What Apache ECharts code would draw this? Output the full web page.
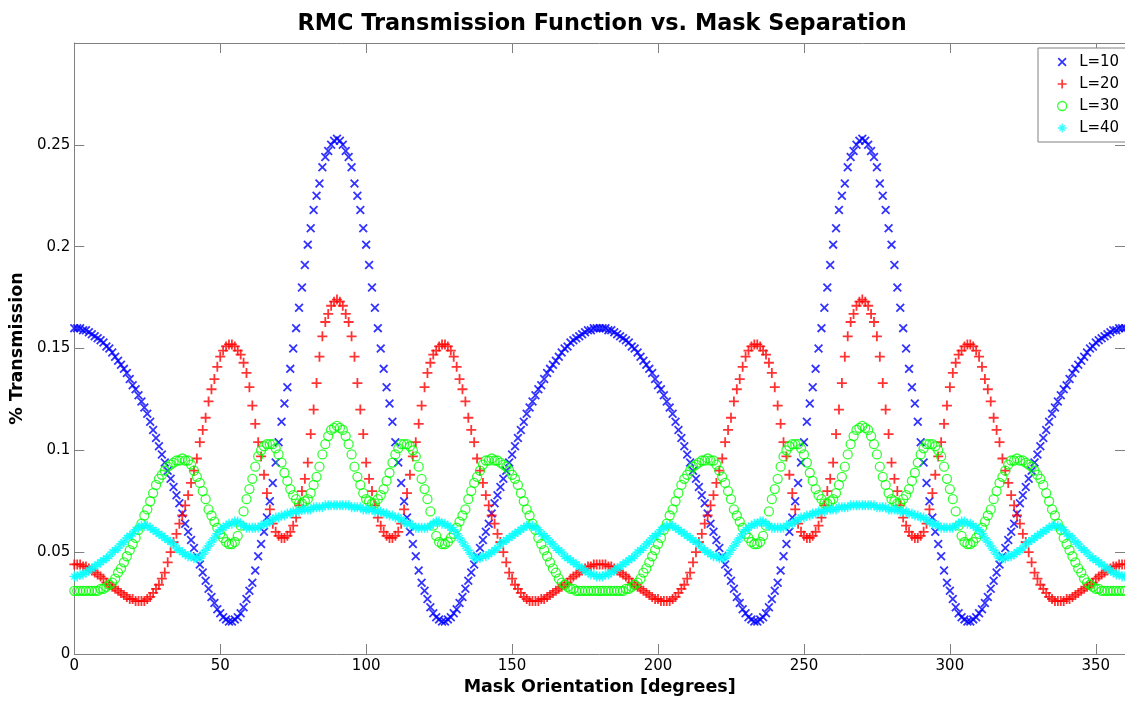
<!doctype html>
<html>
<head>
<meta charset="utf-8">
<script src="https://cdn.jsdelivr.net/npm/echarts@6/dist/echarts.min.js"></script>
<style>
    html, body { margin: 0; padding: 0; background: #fff; }
    #chart-panel { width: 1125px; height: 703px; }
</style>
</head>
<body>
<div id="chart-panel"></div>
<script type="text/javascript">
// one sample per degree, 0..360
var STEP = 1;

var seriesNames = ['L=10', 'L=20', 'L=30', 'L=40'];

// L=10 (blue x)
var blue = [
    .160,.160,.160,.159,.159,.158,.157,.156,.155,.154,
    .153,.151,.150,.148,.146,.144,.142,.140,.138,.135,
    .132,.130,.127,.124,.121,.118,.114,.110,.106,.102,
    .098,.094,.090,.086,.082,.078,.074,.069,.064,.060,
    .056,.052,.048,.044,.040,.036,.032,.028,.025,.022,
    .020,.018,.017,.016,.016,.017,.018,.020,.023,.027,
    .031,.035,.041,.048,.054,.060,.067,.075,.084,.094,
    .104,.114,.123,.131,.140,.150,.160,.170,.180,.191,
    .201,.209,.218,.225,.231,.239,.244,.247,.250,.252,
    .253,.252,.250,.247,.244,.239,.231,.225,.218,.209,
    .201,.191,.180,.170,.160,.150,.140,.131,.123,.114,
    .104,.094,.084,.075,.067,.060,.054,.048,.041,.035,
    .031,.027,.023,.020,.018,.017,.016,.016,.017,.018,
    .020,.022,.025,.028,.032,.036,.040,.044,.048,.052,
    .056,.060,.064,.069,.074,.078,.082,.086,.090,.094,
    .098,.102,.106,.110,.114,.118,.121,.124,.127,.130,
    .132,.135,.138,.140,.142,.144,.146,.148,.150,.151,
    .153,.154,.155,.156,.157,.158,.159,.159,.160,.160,
    .160,.160,.160,.159,.159,.158,.157,.156,.155,.154,
    .153,.151,.150,.148,.146,.144,.142,.140,.138,.135,
    .132,.130,.127,.124,.121,.118,.114,.110,.106,.102,
    .098,.094,.090,.086,.082,.078,.074,.069,.064,.060,
    .056,.052,.048,.044,.040,.036,.032,.028,.025,.022,
    .020,.018,.017,.016,.016,.017,.018,.020,.023,.027,
    .031,.035,.041,.048,.054,.060,.067,.075,.084,.094,
    .104,.114,.123,.131,.140,.150,.160,.170,.180,.191,
    .201,.209,.218,.225,.231,.239,.244,.247,.250,.252,
    .253,.252,.250,.247,.244,.239,.231,.225,.218,.209,
    .201,.191,.180,.170,.160,.150,.140,.131,.123,.114,
    .104,.094,.084,.075,.067,.060,.054,.048,.041,.035,
    .031,.027,.023,.020,.018,.017,.016,.016,.017,.018,
    .020,.022,.025,.028,.032,.036,.040,.044,.048,.052,
    .056,.060,.064,.069,.074,.078,.082,.086,.090,.094,
    .098,.102,.106,.110,.114,.118,.121,.124,.127,.130,
    .132,.135,.138,.140,.142,.144,.146,.148,.150,.151,
    .153,.154,.155,.156,.157,.158,.159,.159,.160,.160,
    .160
];

// L=20 (red +)
var red = [
    .044,.044,.044,.043,.043,.042,.041,.040,.039,.038,
    .037,.035,.034,.033,.032,.031,.030,.029,.028,.027,
    .027,.026,.026,.026,.026,.027,.028,.030,.032,.034,
    .037,.040,.045,.050,.055,.059,.064,.068,.073,.078,
    .084,.090,.096,.104,.110,.116,.124,.130,.135,.141,
    .146,.149,.151,.152,.152,.151,.149,.147,.143,.138,
    .131,.122,.113,.104,.097,.088,.079,.071,.064,.060,
    .058,.057,.057,.058,.060,.063,.067,.073,.080,.086,
    .094,.108,.120,.133,.146,.156,.163,.167,.171,.173,
    .174,.173,.171,.167,.163,.156,.146,.133,.120,.108,
    .094,.086,.080,.073,.067,.063,.060,.058,.057,.057,
    .058,.060,.064,.071,.079,.088,.097,.104,.113,.122,
    .131,.138,.143,.147,.149,.151,.152,.152,.151,.149,
    .146,.141,.135,.130,.124,.116,.110,.104,.096,.090,
    .084,.078,.073,.068,.064,.059,.055,.050,.045,.040,
    .037,.034,.032,.030,.028,.027,.026,.026,.026,.026,
    .027,.027,.028,.029,.030,.031,.032,.033,.034,.035,
    .037,.038,.039,.040,.041,.042,.043,.043,.044,.044,
    .044,.044,.044,.043,.043,.042,.041,.040,.039,.038,
    .037,.035,.034,.033,.032,.031,.030,.029,.028,.027,
    .027,.026,.026,.026,.026,.027,.028,.030,.032,.034,
    .037,.040,.045,.050,.055,.059,.064,.068,.073,.078,
    .084,.090,.096,.104,.110,.116,.124,.130,.135,.141,
    .146,.149,.151,.152,.152,.151,.149,.147,.143,.138,
    .131,.122,.113,.104,.097,.088,.079,.071,.064,.060,
    .058,.057,.057,.058,.060,.063,.067,.073,.080,.086,
    .094,.108,.120,.133,.146,.156,.163,.167,.171,.173,
    .174,.173,.171,.167,.163,.156,.146,.133,.120,.108,
    .094,.086,.080,.073,.067,.063,.060,.058,.057,.057,
    .058,.060,.064,.071,.079,.088,.097,.104,.113,.122,
    .131,.138,.143,.147,.149,.151,.152,.152,.151,.149,
    .146,.141,.135,.130,.124,.116,.110,.104,.096,.090,
    .084,.078,.073,.068,.064,.059,.055,.050,.045,.040,
    .037,.034,.032,.030,.028,.027,.026,.026,.026,.026,
    .027,.027,.028,.029,.030,.031,.032,.033,.034,.035,
    .037,.038,.039,.040,.041,.042,.043,.043,.044,.044,
    .044
];

// L=30 (green o)
var green = [
    .031,.031,.031,.031,.031,.031,.031,.031,.031,.032,
    .032,.033,.034,.035,.037,.040,.042,.045,.048,.051,
    .054,.057,.061,.064,.068,.071,.075,.079,.083,.086,
    .088,.090,.092,.093,.094,.095,.095,.096,.095,.095,
    .093,.090,.087,.084,.080,.076,.071,.068,.065,.062,
    .059,.057,.055,.054,.054,.055,.058,.063,.070,.076,
    .081,.086,.092,.097,.100,.102,.103,.103,.103,.101,
    .098,.094,.089,.085,.081,.078,.076,.074,.074,.075,
    .076,.079,.083,.087,.092,.098,.103,.107,.110,.111,
    .112,.111,.110,.107,.103,.098,.092,.087,.083,.079,
    .076,.075,.074,.074,.076,.078,.081,.085,.089,.094,
    .098,.101,.103,.103,.103,.102,.100,.097,.092,.086,
    .081,.076,.070,.063,.058,.055,.054,.054,.055,.057,
    .059,.062,.065,.068,.071,.076,.080,.084,.087,.090,
    .093,.095,.095,.096,.095,.095,.094,.093,.092,.090,
    .088,.086,.083,.079,.075,.071,.068,.064,.061,.057,
    .054,.051,.048,.045,.042,.040,.037,.035,.034,.033,
    .032,.032,.031,.031,.031,.031,.031,.031,.031,.031,
    .031,.031,.031,.031,.031,.031,.031,.031,.031,.032,
    .032,.033,.034,.035,.037,.040,.042,.045,.048,.051,
    .054,.057,.061,.064,.068,.071,.075,.079,.083,.086,
    .088,.090,.092,.093,.094,.095,.095,.096,.095,.095,
    .093,.090,.087,.084,.080,.076,.071,.068,.065,.062,
    .059,.057,.055,.054,.054,.055,.058,.063,.070,.076,
    .081,.086,.092,.097,.100,.102,.103,.103,.103,.101,
    .098,.094,.089,.085,.081,.078,.076,.074,.074,.075,
    .076,.079,.083,.087,.092,.098,.103,.107,.110,.111,
    .112,.111,.110,.107,.103,.098,.092,.087,.083,.079,
    .076,.075,.074,.074,.076,.078,.081,.085,.089,.094,
    .098,.101,.103,.103,.103,.102,.100,.097,.092,.086,
    .081,.076,.070,.063,.058,.055,.054,.054,.055,.057,
    .059,.062,.065,.068,.071,.076,.080,.084,.087,.090,
    .093,.095,.095,.096,.095,.095,.094,.093,.092,.090,
    .088,.086,.083,.079,.075,.071,.068,.064,.061,.057,
    .054,.051,.048,.045,.042,.040,.037,.035,.034,.033,
    .032,.032,.031,.031,.031,.031,.031,.031,.031,.031,
    .031
];

// L=40 (cyan *)
var cyan = [
    .038,.038,.039,.039,.040,.041,.042,.043,.044,.045,
    .046,.047,.048,.050,.051,.052,.054,.055,.057,.058,
    .059,.061,.062,.063,.063,.063,.062,.061,.060,.059,
    .058,.057,.056,.055,.054,.052,.051,.050,.049,.048,
    .048,.047,.047,.047,.049,.051,.053,.055,.057,.059,
    .061,.062,.063,.064,.064,.065,.065,.064,.063,.062,
    .062,.062,.062,.062,.063,.064,.064,.065,.066,.067,
    .067,.068,.068,.069,.069,.070,.070,.070,.071,.071,
    .071,.071,.072,.072,.072,.072,.073,.073,.073,.073,
    .073,.073,.073,.073,.073,.072,.072,.072,.072,.071,
    .071,.071,.071,.070,.070,.070,.069,.069,.068,.068,
    .067,.067,.066,.065,.064,.064,.063,.062,.062,.062,
    .062,.062,.063,.064,.065,.065,.064,.064,.063,.062,
    .061,.059,.057,.055,.053,.051,.049,.047,.047,.047,
    .048,.048,.049,.050,.051,.052,.054,.055,.056,.057,
    .058,.059,.060,.061,.062,.063,.063,.063,.062,.061,
    .059,.058,.057,.055,.054,.052,.051,.050,.048,.047,
    .046,.045,.044,.043,.042,.041,.040,.039,.039,.038,
    .038,.038,.039,.039,.040,.041,.042,.043,.044,.045,
    .046,.047,.048,.050,.051,.052,.054,.055,.057,.058,
    .059,.061,.062,.063,.063,.063,.062,.061,.060,.059,
    .058,.057,.056,.055,.054,.052,.051,.050,.049,.048,
    .048,.047,.047,.047,.049,.051,.053,.055,.057,.059,
    .061,.062,.063,.064,.064,.065,.065,.064,.063,.062,
    .062,.062,.062,.062,.063,.064,.064,.065,.066,.067,
    .067,.068,.068,.069,.069,.070,.070,.070,.071,.071,
    .071,.071,.072,.072,.072,.072,.073,.073,.073,.073,
    .073,.073,.073,.073,.073,.072,.072,.072,.072,.071,
    .071,.071,.071,.070,.070,.070,.069,.069,.068,.068,
    .067,.067,.066,.065,.064,.064,.063,.062,.062,.062,
    .062,.062,.063,.064,.065,.065,.064,.064,.063,.062,
    .061,.059,.057,.055,.053,.051,.049,.047,.047,.047,
    .048,.048,.049,.050,.051,.052,.054,.055,.056,.057,
    .058,.059,.060,.061,.062,.063,.063,.063,.062,.061,
    .059,.058,.057,.055,.054,.052,.051,.050,.048,.047,
    .046,.045,.044,.043,.042,.041,.040,.039,.039,.038,
    .038
];

// matlab-like marker shapes
var X_MARK = 'path://M0,1.4L1.4,0L10,8.6L8.6,10ZM8.6,0L10,1.4L1.4,10L0,8.6Z';
var PLUS_MARK = 'path://M4.1,0L5.9,0L5.9,10L4.1,10ZM0,4.1L10,4.1L10,5.9L0,5.9Z';
var STAR_MARK = 'path://M4.25,0L5.75,0L5.75,10L4.25,10ZM0,4.25L10,4.25L10,5.75L0,5.75Z' +
    'M1.5,2.5L2.5,1.5L8.5,7.5L7.5,8.5ZM7.5,1.5L8.5,2.5L2.5,8.5L1.5,7.5Z';

var FONT = 'DejaVu Sans';
var AXIS_GREY = '#808080';

function pts(vals) {
    return vals.map(function (v, i) { return [i * STEP, v]; });
}

var chart = echarts.init(document.getElementById('chart-panel'));

// box axes: onZero off so the top/right copies stay on their own edges
var xBase = {
    type: 'value', min: 0, max: 360, interval: 50,
    splitLine: { show: false },
    axisLine: { show: true, onZero: false, lineStyle: { color: AXIS_GREY, width: 1 } },
    axisTick: { show: true, inside: true, length: 10, lineStyle: { color: AXIS_GREY, width: 1 } }
};
var yBase = {
    type: 'value', min: 0, max: 0.3, interval: 0.05,
    splitLine: { show: false },
    axisLine: { show: true, onZero: false, lineStyle: { color: AXIS_GREY, width: 1 } },
    axisTick: { show: true, inside: true, length: 10, lineStyle: { color: AXIS_GREY, width: 1 } }
};

var option = {
    backgroundColor: '#fff',
    animation: false,
    title: {
        text: 'RMC Transmission Function vs. Mask Separation',
        left: 597,
        textAlign: 'center',
        top: 8,
        textStyle: { fontFamily: FONT, fontSize: 22.4, fontWeight: 'bold', color: '#000' }
    },
    legend: {
        orient: 'vertical',
        left: 1038,
        top: 48,
        padding: [6, 24, 6, 19],
        itemWidth: 24,
        itemHeight: 9,
        itemGap: 6,
        symbolKeepAspect: true,
        selectedMode: false,
        backgroundColor: '#fff',
        borderColor: AXIS_GREY,
        borderWidth: 1,
        textStyle: { fontFamily: FONT, fontSize: 15, color: '#000', lineHeight: 16 },
        data: [
            { name: seriesNames[0], icon: X_MARK, itemStyle: { color: '#0000ff' } },
            { name: seriesNames[1], icon: PLUS_MARK, itemStyle: { color: '#ff0000' } },
            { name: seriesNames[2], icon: 'circle',
              itemStyle: { color: 'rgba(0,0,0,0)', borderColor: '#00ff00', borderWidth: 1.3 } },
            { name: seriesNames[3], icon: STAR_MARK, itemStyle: { color: '#00ffff' } }
        ]
    },
    grid: { left: 74, top: 43, width: 1055, height: 611 },
    xAxis: [
        Object.assign({}, xBase, {
            position: 'bottom',
            name: 'Mask Orientation [degrees]',
            nameLocation: 'middle',
            nameGap: 23,
            nameTextStyle: { fontFamily: FONT, fontSize: 17.5, fontWeight: 'bold', color: '#000' },
            axisLabel: { fontFamily: FONT, fontSize: 15, color: '#000', margin: 5, showMaxLabel: false }
        }),
        Object.assign({}, xBase, { position: 'top', axisLabel: { show: false } })
    ],
    yAxis: [
        Object.assign({}, yBase, {
            position: 'left',
            name: '% Transmission',
            nameLocation: 'middle',
            nameGap: 43,
            nameRotate: 90,
            nameTextStyle: { fontFamily: FONT, fontSize: 17.5, fontWeight: 'bold', color: '#000' },
            axisLabel: { fontFamily: FONT, fontSize: 15, color: '#000', margin: 4, showMaxLabel: false }
        }),
        Object.assign({}, yBase, { position: 'right', axisLabel: { show: false } })
    ],
    series: [
        {
            name: seriesNames[0], type: 'scatter', symbol: X_MARK, symbolSize: 9,
            itemStyle: { color: '#0000ff' }, data: pts(blue), silent: true
        },
        {
            name: seriesNames[1], type: 'scatter', symbol: PLUS_MARK, symbolSize: 10,
            itemStyle: { color: '#ff0000' }, data: pts(red), silent: true
        },
        {
            name: seriesNames[2], type: 'scatter', symbol: 'circle', symbolSize: 9,
            itemStyle: { color: 'rgba(0,0,0,0)', borderColor: '#00ff00', borderWidth: 1.3 },
            data: pts(green), silent: true
        },
        {
            name: seriesNames[3], type: 'scatter', symbol: STAR_MARK, symbolSize: 10,
            itemStyle: { color: '#00ffff' }, data: pts(cyan), silent: true
        }
    ]
};

chart.setOption(option);
</script>
</body>
</html>
